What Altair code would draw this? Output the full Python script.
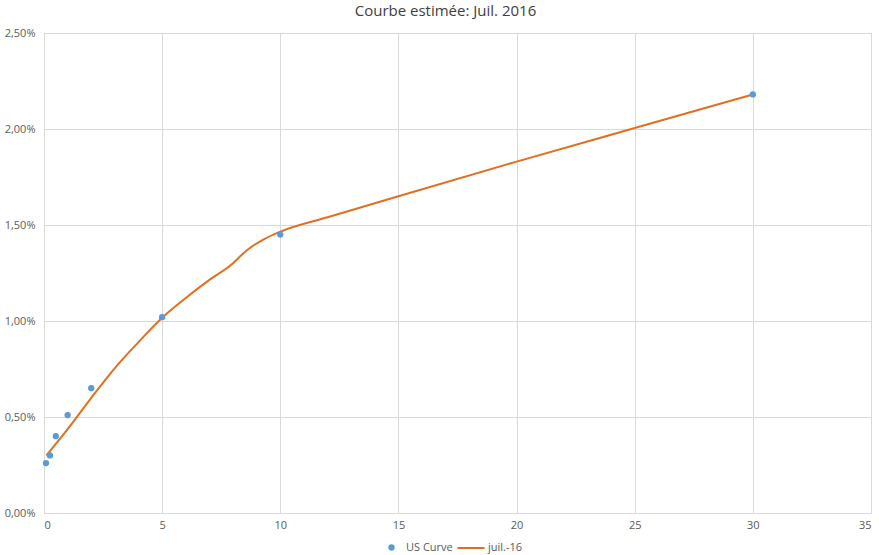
import altair as alt
import pandas as pd

# Observed US yields (maturity in years, yield as a fraction)
obs_maturity = [0.083, 0.25, 0.5, 1, 2, 5, 10, 30]
obs_yield = [0.0026, 0.0030, 0.0040, 0.0051, 0.0065, 0.0102, 0.0145, 0.0218]

# Estimated curve for July 2016
fit_maturity = [0.1, 1, 2, 3, 4, 5, 6, 7, 7.9, 8.6, 9.3, 10, 12, 15, 20, 25, 30]
fit_yield = [0.0030, 0.00437, 0.0060, 0.00755, 0.0089, 0.01017, 0.0112, 0.01214,
             0.0129, 0.0137, 0.01425, 0.01465, 0.0154, 0.0165, 0.0183, 0.02005, 0.0218]

x_ticks = [0, 5, 10, 15, 20, 25, 30, 35]
y_ticks = [0, 0.005, 0.01, 0.015, 0.02, 0.025]

obs = pd.DataFrame({"maturity": obs_maturity, "yield": obs_yield, "serie": "US Curve"})
fit = pd.DataFrame({"maturity": fit_maturity, "yield": fit_yield, "courbe": "juil.-16"})

BLUE = "#5B9BD5"
ORANGE = "#E0701F"
FONT = "Open Sans"

x_enc = alt.X(
    "maturity:Q",
    scale=alt.Scale(domain=[0, 35], nice=False),
    axis=alt.Axis(values=x_ticks, title=None, ticks=False, labelPadding=6,
                  domainColor="#d9d9d9", gridColor="#d9d9d9"),
)
y_enc = alt.Y(
    "yield:Q",
    scale=alt.Scale(domain=[0, 0.025], nice=False),
    axis=alt.Axis(values=y_ticks, title=None, ticks=False, labelPadding=9,
                  labelExpr="replace(format(datum.value, '.2%'), '.', ',')",
                  domainColor="#d9d9d9", gridColor="#d9d9d9"),
)

curve = alt.Chart(fit).mark_line(interpolate="monotone", strokeWidth=2).encode(
    x=x_enc,
    y=y_enc,
    stroke=alt.Stroke(
        "courbe:N",
        scale=alt.Scale(domain=["juil.-16"], range=[ORANGE]),
        legend=alt.Legend(title=None, orient="none", legendX=412, legendY=500,
                          symbolType="stroke", symbolSize=730, symbolStrokeWidth=2,
                          labelOffset=2, padding=0),
    ),
)

points = alt.Chart(obs).mark_point(filled=True, size=40, opacity=1).encode(
    x="maturity:Q",
    y="yield:Q",
    color=alt.Color(
        "serie:N",
        scale=alt.Scale(domain=["US Curve"], range=[BLUE]),
        legend=alt.Legend(title=None, orient="none", legendX=342, legendY=509,
                          symbolType="circle", symbolSize=40, labelOffset=9,
                          padding=0),
    ),
)

chart = (
    alt.layer(curve, points)
    .resolve_scale(color="independent")
    .properties(
        width=827,
        height=480,
        autosize=alt.AutoSizeParams(type="none"),
        padding={"left": 44, "top": 33, "right": 8, "bottom": 42},
        title=alt.TitleParams(
            "Courbe estimée: Juil. 2016",
            anchor="middle",
            frame="group",
            dx=-12,
            offset=8,
            fontSize=15,
            fontWeight="normal",
            font=FONT,
            color="#404040",
        ),
    )
    .configure_view(stroke="#d9d9d9")
    .configure_axis(labelFont=FONT, labelFontSize=11, labelColor="#595959")
    .configure_legend(labelFont=FONT, labelFontSize=11, labelColor="#595959")
)

chart.save("out.html", embed_options={"renderer": "svg", "actions": False})
